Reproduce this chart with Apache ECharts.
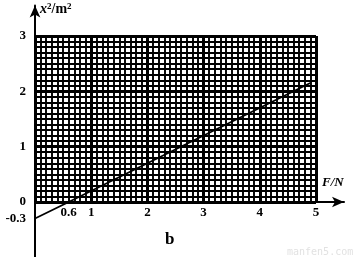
<!DOCTYPE html>
<html><head><meta charset="utf-8">
<script src="https://cdn.jsdelivr.net/npm/echarts@6/dist/echarts.min.js"></script>
<style>html,body{margin:0;padding:0;background:#fff}#c{width:355px;height:257px}</style>
</head><body><div id="c"></div>
<script>
// data
const xTickLabels = [0.6, 1, 2, 3, 4, 5];
const yTickLabels = [-0.3, 0, 1, 2, 3];
const lineF = [0, 0.6, 4.9];
const lineX2 = [-0.3, 0, 2.15];
const xName = 'F/N';
const caption = 'b';

const chart = echarts.init(document.getElementById('c'));
const serif = 'Liberation Serif';
const minor = {show: true, splitNumber: 10, length: 0, lineStyle: {width: 0, color: 'rgba(0,0,0,0)'}};
chart.setOption({
  animation: false,
  grid: [
    {left: 35, top: 36, width: 281, height: 166, show: false, containLabel: false, outerBoundsMode: 'none'},
    {left: 35, top: 5.5, width: 309, height: 251.8, show: false, containLabel: false, outerBoundsMode: 'none'}
  ],
  xAxis: [
    {gridIndex: 0, type: 'value', min: 0, max: 5, interval: 1,
     axisLine: {show: false}, axisTick: {show: false},
     axisLabel: {show: true, customValues: xTickLabels, margin: 4,
       color: '#000', fontFamily: serif, fontSize: 13, fontWeight: 'bold'},
     splitLine: {show: true, lineStyle: {color: '#000', width: 3}},
     minorTick: minor,
     minorSplitLine: {show: true, lineStyle: {color: '#000', width: 1.9}}},
    {gridIndex: 1, type: 'value', min: 0, max: 5.5,
     axisLine: {show: true, onZero: true, symbol: ['none', 'arrow'], symbolSize: [8, 12],
       lineStyle: {color: '#000', width: 2}},
     axisTick: {show: false}, splitLine: {show: false}, axisLabel: {show: false}}
  ],
  yAxis: [
    {gridIndex: 0, type: 'value', min: 0, max: 3, interval: 1,
     axisLine: {show: false}, axisTick: {show: false}, axisLabel: {show: false},
     splitLine: {show: true, lineStyle: {color: '#000', width: 3}},
     minorTick: minor,
     minorSplitLine: {show: true, lineStyle: {color: '#000', width: 1.9}}},
    {gridIndex: 1, type: 'value', min: -1, max: 3.55,
     axisLine: {show: true, onZero: false, symbol: ['none', 'arrow'], symbolSize: [8, 12],
       lineStyle: {color: '#000', width: 2}},
     axisTick: {show: false}, splitLine: {show: false},
     axisLabel: {show: true, customValues: yTickLabels, margin: 9,
       color: '#000', fontFamily: serif, fontSize: 13, fontWeight: 'bold'}}
  ],
  series: [
    {type: 'line', xAxisIndex: 1, yAxisIndex: 1, symbol: 'none', clip: false,
     lineStyle: {color: '#000', width: 1.8},
     data: lineF.map((f, i) => [f, lineX2[i]])}
  ],
  graphic: [
    {type: 'text', left: 40, top: 2, style: {
      text: '{i|x}{s|2}{n|/m}{s|2}',
      rich: {
        i: {fontFamily: serif, fontStyle: 'italic', fontSize: 14, fill: '#000', fontWeight: 'bold'},
        n: {fontFamily: serif, fontSize: 14, fill: '#000', fontWeight: 'bold'},
        s: {fontFamily: serif, fontSize: 9, fill: '#000', verticalAlign: 'top', padding: [0, 0, 6, 0], fontWeight: 'bold'}
      }}},
    {type: 'text', left: 322, top: 176, style: {text: xName, fontFamily: serif, fontStyle: 'italic',
      fontSize: 13, fill: '#000', fontWeight: 'bold'}},
    {type: 'text', left: 165, top: 231, style: {text: caption, fontFamily: serif,
      fontSize: 17, fill: '#000', fontWeight: 'bold'}},
    {type: 'text', left: 287, top: 247, style: {text: 'manfen5.com', fontFamily: 'DejaVu Sans Mono',
      fontSize: 10, fill: '#e2e2e2'}}
  ]
});
</script></body></html>
